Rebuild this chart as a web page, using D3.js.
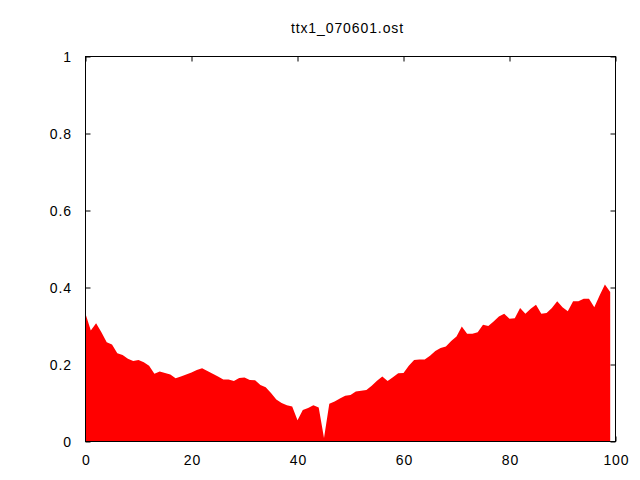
<!DOCTYPE html>
<html>
<head>
<meta charset="utf-8">
<script src="https://cdn.jsdelivr.net/npm/d3@7"></script>
<style>
  html, body { margin: 0; padding: 0; background: #ffffff; }
  svg { display: block; }
  text { font-family: "Liberation Sans", Arial, sans-serif; }
</style>
</head>
<body>
<svg id="chart" width="640" height="480"></svg>
<script>
// ---- data ----
const chartTitle = "ttx1_070601.ost";
// values at x = 0, 1, 2, ... 99
const values = [
  0.332, 0.288, 0.307, 0.284, 0.258, 0.252, 0.229, 0.225, 0.215, 0.209,
  0.212, 0.206, 0.197, 0.176, 0.182, 0.178, 0.174, 0.164, 0.169, 0.174,
  0.179, 0.186, 0.190, 0.183, 0.176, 0.169, 0.161, 0.161, 0.157, 0.165,
  0.166, 0.160, 0.159, 0.147, 0.141, 0.126, 0.109, 0.100, 0.094, 0.091,
  0.055, 0.082, 0.087, 0.094, 0.088, 0.009, 0.098, 0.104, 0.112, 0.119,
  0.121, 0.130, 0.132, 0.134, 0.145, 0.158, 0.169, 0.157, 0.167, 0.177,
  0.178, 0.197, 0.212, 0.213, 0.213, 0.223, 0.235, 0.243, 0.247, 0.261,
  0.273, 0.299, 0.280, 0.280, 0.284, 0.303, 0.300, 0.312, 0.325, 0.332,
  0.319, 0.320, 0.347, 0.332, 0.345, 0.355, 0.332, 0.334, 0.347, 0.364,
  0.349, 0.338, 0.364, 0.364, 0.371, 0.371, 0.349, 0.379, 0.408, 0.388
];
const xTicks = [0, 20, 40, 60, 80, 100];
const xTickLabels = ["0", "20", "40", "60", "80", "100"];
const yTicks = [0, 0.2, 0.4, 0.6, 0.8, 1];
const yTickLabels = ["0", "0.2", "0.4", "0.6", "0.8", "1"];

// ---- layout ----
const plotLeft = 85.5, plotRight = 615.5, plotTop = 56.5, plotBottom = 441.5;
const tickLen = 5;
const fontSize = 14, letterSp = 0.9;

const svg = d3.select("#chart");
const x = d3.scaleLinear().domain([0, 100]).range([plotLeft, plotRight]);
const y = d3.scaleLinear().domain([0, 1]).range([plotBottom, plotTop]);

function styleAxis(g) {
  g.attr("font-family", null).attr("font-size", null);
  g.select(".domain").remove();
  g.selectAll(".tick line").attr("stroke", "#000").attr("stroke-width", 1);
  g.selectAll(".tick text")
    .attr("fill", "#000")
    .style("font-family", "'Liberation Sans', Arial, sans-serif")
    .style("font-size", fontSize + "px")
    .style("letter-spacing", letterSp + "px");
}

// bottom axis
svg.append("g")
  .attr("transform", `translate(0,${plotBottom})`)
  .call(d3.axisBottom(x).tickValues(xTicks)
    .tickFormat((d, i) => xTickLabels[i])
    .tickSize(-tickLen).tickPadding(13.5))
  .call(styleAxis)
  .selectAll(".tick text").attr("dx", (letterSp / 2) + "px");

// top axis (mirror ticks)
svg.append("g")
  .attr("transform", `translate(0,${plotTop})`)
  .call(d3.axisTop(x).tickValues(xTicks).tickFormat("").tickSize(-tickLen))
  .call(styleAxis);

// left axis
svg.append("g")
  .attr("transform", `translate(${plotLeft},0)`)
  .call(d3.axisLeft(y).tickValues(yTicks)
    .tickFormat((d, i) => yTickLabels[i])
    .tickSize(-tickLen).tickPadding(14.5 - letterSp))
  .call(styleAxis)
  .selectAll(".tick text").attr("dy", "0.35em");

// right axis (mirror ticks)
svg.append("g")
  .attr("transform", `translate(${plotRight},0)`)
  .call(d3.axisRight(y).tickValues(yTicks).tickFormat("").tickSize(-tickLen))
  .call(styleAxis);

// filled curve
const area = d3.area()
  .x((d, i) => x(i))
  .y0(y(0) - 0.5)
  .y1(d => y(d))
  .curve(d3.curveLinear);

svg.append("path")
  .datum(values)
  .attr("d", area)
  .attr("fill", "#ff0000")
  .attr("stroke", "none");

// border frame
svg.append("rect")
  .attr("x", plotLeft).attr("y", plotTop)
  .attr("width", plotRight - plotLeft).attr("height", plotBottom - plotTop)
  .attr("fill", "none").attr("stroke", "#000").attr("stroke-width", 1);

// title
svg.append("text")
  .attr("x", 347 + letterSp / 2).attr("y", 33)
  .attr("text-anchor", "middle")
  .style("font-size", fontSize + "px")
  .style("letter-spacing", letterSp + "px")
  .attr("fill", "#000")
  .text(chartTitle);
</script>
</body>
</html>
